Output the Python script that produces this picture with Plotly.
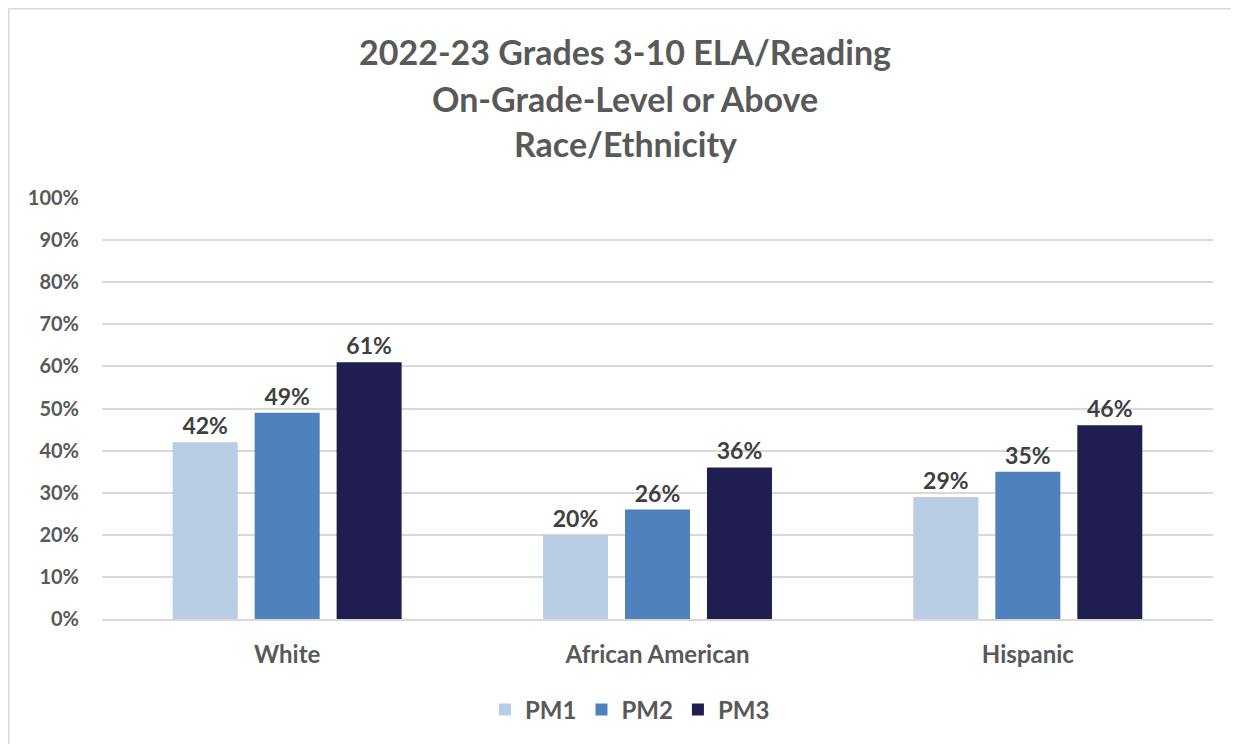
import plotly.graph_objects as go

categories = ["White", "African American", "Hispanic"]
series_names = ["PM1", "PM2", "PM3"]
pm1 = [0.42, 0.20, 0.29]
pm2 = [0.49, 0.26, 0.35]
pm3 = [0.61, 0.36, 0.46]
series_values = [pm1, pm2, pm3]
colors = ["#B9CDE5", "#4F81BD", "#201D50"]
title_lines = ["2022-23 Grades 3-10 ELA/Reading", "On-Grade-Level or Above", "Race/Ethnicity"]
tick_vals = [i / 10 for i in range(11)]
tick_text = [f"{i*10}%" for i in range(11)]

FONT = "Lato"
W, H = 1239, 744
L, R, T, B = 94, 34, 190, 133
pw, ph = W - L - R, H - T - B

fig = go.Figure()
for name, vals, c in zip(series_names, series_values, colors):
    fig.add_trace(go.Bar(
        x=categories, y=vals, name=f"<b>{name}</b>", marker=dict(color=c, line=dict(width=0)),
        text=[f"{round(v*100)}%" for v in vals], textposition="outside",
        texttemplate="<b>%{text}</b>",
        textfont=dict(family=FONT, size=23, color="#404040"),
        cliponaxis=False,
    ))

def px_to_paper_x(px):
    return (px - L) / pw

def px_to_paper_y(py):
    return (H - B - py) / ph

annotations = []
for line, yc in zip(title_lines, [44, 90, 135]):
    annotations.append(dict(
        text=f"<b>{line}</b>", xref="paper", yref="paper",
        x=px_to_paper_x(617), y=px_to_paper_y(yc), xanchor="center", yanchor="middle",
        showarrow=False, font=dict(family=FONT, size=34, color="#595959"),
    ))

border = dict(color="#D9D9D9", width=1.5)
fig.update_layout(
    width=W, height=H,
    margin=dict(l=L, r=R, t=T, b=B, autoexpand=False),
    paper_bgcolor="white", plot_bgcolor="white",
    barmode="group", bargap=0.336, bargroupgap=0.207,
    font=dict(family=FONT, color="#595959"),
    annotations=annotations,
    showlegend=True,
    legend=dict(orientation="h", x=px_to_paper_x(622), y=px_to_paper_y(702),
                xanchor="center", yanchor="middle",
                font=dict(family=FONT, size=24, color="#595959"),
                itemwidth=30, tracegroupgap=0),
    shapes=[
        dict(type="line", xref="paper", yref="paper",
             x0=px_to_paper_x(0.75), x1=px_to_paper_x(W),
             y0=px_to_paper_y(0.75), y1=px_to_paper_y(0.75), line=border, layer="below"),
        dict(type="line", xref="paper", yref="paper",
             x0=px_to_paper_x(0.75), x1=px_to_paper_x(0.75),
             y0=px_to_paper_y(0.75), y1=px_to_paper_y(H), line=border, layer="below"),
    ],
)
fig.update_yaxes(range=[0, 1], tickvals=tick_vals, ticktext=[f"<b>{t}</b>" for t in tick_text],
                 showgrid=True, gridcolor="#D9D9D9", gridwidth=1.5,
                 zeroline=False, showline=False, ticks="", ticklabelstandoff=22,
                 tickfont=dict(family=FONT, size=20, color="#595959"))
fig.update_xaxes(showline=True, linecolor="#D9D9D9", linewidth=1.5, ticks="",
                 ticklabelstandoff=13,
                 tickvals=categories, ticktext=[f"<b>{c}</b>" for c in categories],
                 tickfont=dict(family=FONT, size=24, color="#595959"))
fig.write_html("out.html")
